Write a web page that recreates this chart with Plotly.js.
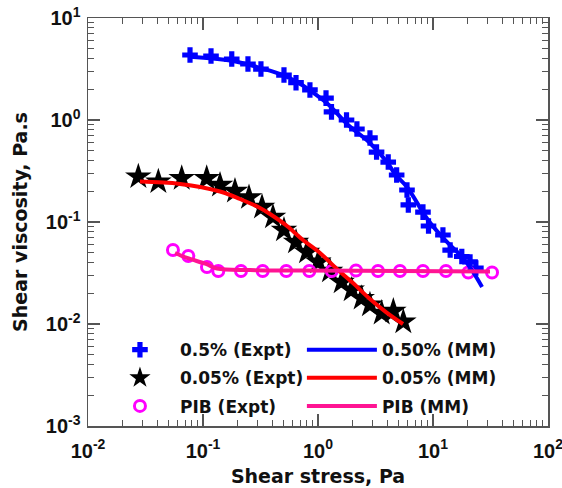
<!DOCTYPE html>
<html>
<head>
<meta charset="utf-8">
<script src="https://cdn.plot.ly/plotly-3.0.1.min.js"></script>
<style>html,body{margin:0;padding:0;background:#fff;}#chart{width:562px;height:488px;}</style>
</head>
<body>
<div id="chart"></div>
<script>
// 0.5% (Expt)
const stress05 = [0.0771,0.1174,0.1778,0.246,0.319,0.506,0.644,0.851,1.174,1.31,1.77,2.18,2.83,3.23,4.08,4.83,5.94,6.10,8.18,9.14,12.2,14.1,17.8,21.0,23.6];
const visc05   = [4.34,4.24,3.96,3.54,3.16,2.76,2.32,1.97,1.64,1.20,1.00,0.816,0.667,0.485,0.387,0.289,0.206,0.147,0.125,0.0914,0.0746,0.0531,0.0459,0.0406,0.0354];
// 0.05% (Expt)
const stress005 = [0.0274,0.0409,0.0653,0.1077,0.1406,0.1897,0.2512,0.326,0.406,0.506,0.644,0.803,1.006,1.272,1.607,1.963,2.399,2.83,3.58,4.52,5.52];
const visc005   = [0.278,0.248,0.268,0.268,0.230,0.201,0.174,0.140,0.112,0.0835,0.0637,0.0508,0.0406,0.0331,0.0258,0.0216,0.0179,0.0154,0.0128,0.0134,0.0105];
// PIB (Expt)
const stressPIB = [0.0548,0.0745,0.1083,0.1358,0.2140,0.3304,0.5300,0.8404,1.316,2.140,3.325,5.164,8.18,12.97,20.28,32.6];
const viscPIB   = [0.0531,0.0464,0.0362,0.0331,0.0331,0.0331,0.0331,0.0331,0.0331,0.0335,0.0331,0.0331,0.0331,0.0331,0.0320,0.0320];
// 0.50% (MM)
const stress05mm = [0.0771,0.1778,0.324,0.496,0.653,1.105,1.272,1.788,2.463,2.83,3.98,4.67,5.94,9.05,12.7,17.9,21.8,26.7];
const visc05mm   = [4.17,3.81,3.21,2.76,2.37,1.57,1.37,0.914,0.681,0.595,0.387,0.296,0.220,0.1046,0.0667,0.0454,0.0338,0.0231];
// 0.05% (MM)
const stress005mm = [0.0283,0.0631,0.1406,0.2097,0.3130,0.3824,0.5375,0.7406,1.041,1.463,2.015,2.83,3.903,5.485];
const visc005mm   = [0.249,0.236,0.199,0.168,0.1372,0.1198,0.0914,0.0666,0.0497,0.0346,0.0252,0.0176,0.0131,0.0100];
// PIB (MM)
const stressPIBmm = [0.0571,0.0726,0.1062,0.1323,0.2563,0.6976,5.164,31.3];
const viscPIBmm   = [0.0497,0.0444,0.0388,0.0350,0.0338,0.0335,0.0331,0.0327];

// tick labels
const xTickVals = [0.01, 0.1, 1, 10, 100];
const xTickText = ['10<sup>-2</sup>','10<sup>-1</sup>','10<sup>0</sup>','10<sup>1</sup>','10<sup>2</sup>'];
const yTickVals = [0.001, 0.01, 0.1, 1, 10];
const yTickText = ['10<sup>-3</sup>','10<sup>-2</sup>','10<sup>-1</sup>','10<sup>0</sup>','10<sup>1</sup>'];

const names = ['0.5% (Expt)','0.05% (Expt)','PIB (Expt)','0.50% (MM)','0.05% (MM)','PIB (MM)'];
const xTitle = 'Shear stress, Pa';
const yTitle = 'Shear viscosity, Pa.s';

const boldFont = {family:'DejaVu Sans, sans-serif', weight:700, color:'#111'};

const traces = [
  {x:stress05, y:visc05, name:names[0], mode:'markers', legend:'legend', legendgroup:'a',
   marker:{symbol:'cross', size:13, color:'#0000ff'}},
  {x:stress005, y:visc005, name:names[1], mode:'markers', legend:'legend', legendgroup:'b',
   marker:{symbol:'star', size:20, color:'#000000', line:{width:0}}},
  {x:stressPIB, y:viscPIB, name:names[2], mode:'markers', legend:'legend', legendgroup:'c',
   marker:{symbol:'circle-open', size:11, color:'#ff00ff', line:{width:3, color:'#ff00ff'}}},
  {x:stress05mm, y:visc05mm, name:names[3], mode:'lines', legend:'legend2', legendgroup:'d',
   line:{color:'#0000ff', width:4, shape:'spline'}},
  {x:stress005mm, y:visc005mm, name:names[4], mode:'lines', legend:'legend2', legendgroup:'e',
   line:{color:'#ff0000', width:4, shape:'spline'}},
  {x:stressPIBmm, y:viscPIBmm, name:names[5], mode:'lines', legend:'legend2', legendgroup:'f',
   line:{color:'#ff1493', width:4, shape:'spline'}}
];

const axisCommon = {
  type:'log', showgrid:false, zeroline:false,
  showline:true, linecolor:'#555', linewidth:1.5, mirror:'ticks',
  ticks:'inside', ticklen:12, tickwidth:1.2, tickcolor:'#555',
  tickmode:'array', ticklabeloverflow:'allow',
  tickfont:{family:'Liberation Sans, Arial, sans-serif', size:20, weight:700, color:'#111'},
  minor:{ticks:'inside', ticklen:6, tickwidth:1.2, tickcolor:'#555', dtick:'D1', showgrid:false}
};

const layout = {
  width:562, height:488,
  margin:{l:88, r:14, t:18, b:62},
  paper_bgcolor:'#fff', plot_bgcolor:'#fff',
  showlegend:true,
  xaxis:Object.assign({}, axisCommon, {range:[-2,2], tickvals:xTickVals, ticktext:xTickText,
    ticklabelstandoff:6,
    title:{text:xTitle, font:Object.assign({size:19}, boldFont), standoff:9}}),
  yaxis:Object.assign({}, axisCommon, {range:[-3,1], tickvals:yTickVals, ticktext:yTickText,
    ticklabelstandoff:2,
    title:{text:yTitle, font:Object.assign({size:19}, boldFont), standoff:13}}),
  legend:{x:0.026, y:0.23, xanchor:'left', yanchor:'top', bgcolor:'rgba(0,0,0,0)',
    font:Object.assign({size:17}, boldFont), tracegroupgap:3, itemwidth:70},
  legend2:{x:0.465, y:0.23, xanchor:'left', yanchor:'top', bgcolor:'rgba(0,0,0,0)',
    font:Object.assign({size:17}, boldFont), tracegroupgap:3, itemwidth:70}
};

Plotly.newPlot('chart', traces, layout, {displayModeBar:false, staticPlot:true});
</script>
</body>
</html>
